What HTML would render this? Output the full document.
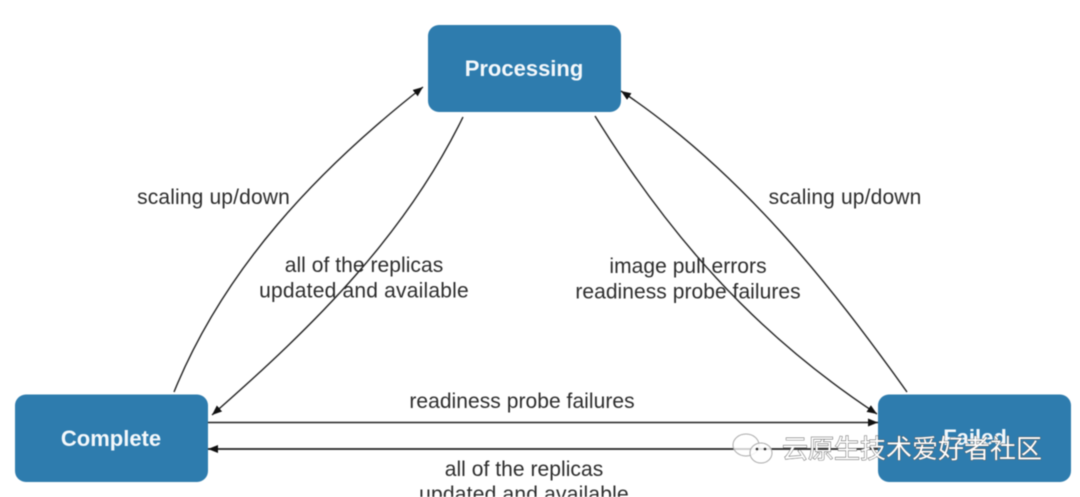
<!DOCTYPE html>
<html>
<head>
<meta charset="utf-8">
<style>
html,body{margin:0;padding:0;background:#fff;width:1080px;height:497px;overflow:hidden}
svg{display:block;filter:blur(0.45px)}
text{font-family:"Liberation Sans",sans-serif}
.l{font-size:21px;fill:#2c2c2c;text-anchor:middle;letter-spacing:.05px}
.w{letter-spacing:.2px}
.s{letter-spacing:.15px}
.n{font-size:22px;font-weight:bold;fill:#f4f8fb;text-anchor:middle}
.e{fill:none;stroke:#222;stroke-width:1.4}
</style>
</head>
<body>
<svg width="1080" height="497" viewBox="0 0 1080 497" xmlns="http://www.w3.org/2000/svg">
<defs>
<marker id="a" markerWidth="12" markerHeight="10" refX="10" refY="4" orient="auto" markerUnits="userSpaceOnUse">
<path d="M0,0 L10,4 L0,8 Z" fill="#111"/>
</marker>
</defs>
<rect x="15" y="394.500" width="193" height="87.500" rx="11" fill="#2e7cae"/>
<rect x="428" y="25" width="193" height="87" rx="11" fill="#2e7cae"/>
<rect x="878" y="394.500" width="193" height="87.500" rx="11" fill="#2e7cae"/>
<path class="e" d="M174,392 C224,269 316,171 423,87" marker-end="url(#a)"/>
<path class="e" d="M463,117 C406,234 317,323 212,415" marker-end="url(#a)"/>
<path class="e" d="M595,116 C667,232 751,331 877,414" marker-end="url(#a)"/>
<path class="e" d="M907,392 C832,287 742,172 621,91" marker-end="url(#a)"/>
<path class="e" d="M208,422.500 L878,422.500" marker-end="url(#a)"/>
<path class="e" d="M878,449 L208,449" marker-end="url(#a)" style="stroke-width:1.800"/>
<text class="n" x="524" y="76">Processing</text>
<text class="n" x="111" y="446">Complete</text>
<text class="n" x="975" y="445">Failed</text>
<text class="l s" x="213.500" y="204">scaling up/down</text>
<text class="l s" x="845" y="204">scaling up/down</text>
<text class="l" x="364" y="272">all of the replicas</text>
<text class="l w" x="364" y="297.500">updated and available</text>
<text class="l" x="688" y="273">image pull errors</text>
<text class="l" x="688" y="298.500">readiness probe failures</text>
<text class="l" x="522" y="408">readiness probe failures</text>
<text class="l" x="524" y="476">all of the replicas</text>
<text class="l w" x="524" y="501">updated and available</text>
<g fill="none" stroke="#aaa" stroke-width="1">
<ellipse cx="746" cy="445" rx="13" ry="11" fill="#fff" fill-opacity=".75"/>
<ellipse cx="761" cy="453" rx="11" ry="10" fill="#fff" fill-opacity=".85"/>
</g>
<circle cx="757" cy="449" r="1.300" fill="#222"/>
<circle cx="765" cy="449" r="1.300" fill="#222"/>
<text x="782" y="458" style='font-family:"Liberation Sans","Noto Sans CJK SC",sans-serif;font-size:26px;fill:#fff;stroke:#555;stroke-width:.9;paint-order:stroke'>云原生技术爱好者社区</text>
</svg>
</body>
</html>
